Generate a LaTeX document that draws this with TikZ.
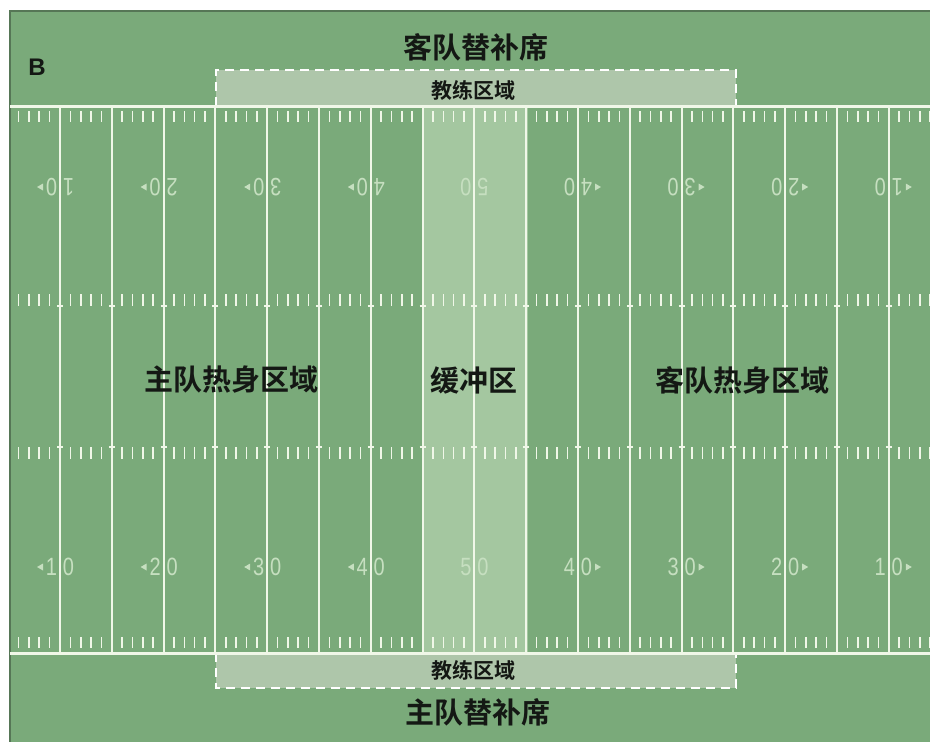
\documentclass[tikz,border=0pt]{standalone}
\usepackage{fontspec}
\setmainfont{Liberation Sans}
\newfontfamily\cjk{Noto Sans CJK SC}[BoldFont={Noto Sans CJK SC Bold}]
\usepackage{tikz}
\usetikzlibrary{positioning}
\definecolor{turf}{RGB}{122,170,122}
\definecolor{turfedge}{RGB}{86,118,86}
\definecolor{bufferzone}{RGB}{164,199,160}
\definecolor{coachzone}{RGB}{174,198,170}
\definecolor{chalk}{RGB}{240,247,232}
\definecolor{yardnum}{RGB}{198,223,192}
\definecolor{ink}{RGB}{20,24,20}
% yard number pair: #1 name, #2 x of yard line, #3 tens digit, #4 arrow side
\newcommand{\newYardNumber}[4]{%
  \node[yard num] (#1bt) at (#2-8.5,567) {#3};
  \node[yard num] (#1bo) at (#2+8.5,567) {0};
  \node[yard num,rotate=180] (#1tt) at (#2+8.5,187) {#3};
  \node[yard num,rotate=180] (#1to) at (#2-8.5,187) {0};
  \ifnum#4=0\else
    \fill[yardnum] ({#2+23*(#4)},567) -- ++({-6*(#4)},3.5) -- ++(0,-7) -- cycle;
    \fill[yardnum] ({#2+23*(#4)},187) -- ++({-6*(#4)},3.5) -- ++(0,-7) -- cycle;
  \fi}

\begin{document}
\begin{tikzpicture}[
    % pixel grid of the plan
    x=1pt,y=-1pt,
    % chalk marks
    yard line/.style={chalk,line width=2},
    side line/.style={chalk,line width=3},
    hash/.style={chalk,line width=1.6},
    coach edge/.style={white,line width=2.6,dash pattern=on 9 off 6},
    % texts
    yard num/.style={text=yardnum,inner sep=0,xscale=0.8,font=\fontsize{25}{25}\selectfont},
    zone label/.style={text=ink,inner sep=0,font=\cjk\bfseries\fontsize{29}{29}\selectfont},
    coach label/.style={text=ink,inner sep=0,font=\cjk\bfseries\fontsize{21}{21}\selectfont}
    ]

    \useasboundingbox (0,0) rectangle (930,742);
    \fill[white] (0,0) rectangle (930,742);
    \fill[turf] (10,11) rectangle (930,742);
    \draw[turfedge,line width=2.5] (10,742) -- (10,11) -- (930,11);

    % buffer zone and coach areas
    \fill[bufferzone] (424,106) rectangle (528,653);
    \fill[coachzone] (216,70) rectangle (736,106);
    \fill[coachzone] (216,653) rectangle (736,688);
    \draw[coach edge] (216,106) -- (216,70) -- (736,70) -- (736,106);
    \draw[coach edge] (216,653) -- (216,688) -- (736,688) -- (736,653);

    % yard lines
    \foreach \k in {0,...,16}{
      \pgfmathsetmacro{\x}{60+51.8*\k}
      \draw[yard line] (\x,106) -- (\x,653);
      \draw[hash] (\x-3,306) -- (\x+3,306);
      \draw[hash] (\x-3,447) -- (\x+3,447);
    }

    % hash marks, one per yard
    \foreach \k in {-1,...,16}{
      \foreach \i in {1,...,4}{
        \pgfmathsetmacro{\hx}{60+51.8*\k+10.36*\i}
        \draw[hash] (\hx,111) -- (\hx,122);
        \draw[hash] (\hx,294) -- (\hx,306);
        \draw[hash] (\hx,447) -- (\hx,459);
        \draw[hash] (\hx,637) -- (\hx,648);
      }
    }

    \draw[side line] (10,106) -- (930,106);
    \draw[side line] (10,653) -- (930,653);

    % yard numbers
    \foreach \k/\d/\s in {0/1/-1,2/2/-1,4/3/-1,6/4/-1,8/5/0,10/4/1,12/3/1,14/2/1,16/1/1}{
      \pgfmathsetmacro{\x}{60+51.8*\k}
      \newYardNumber{n\k}{\x}{\d}{\s}
    }

    \node[text=ink,inner sep=0,font=\bfseries\fontsize{24}{24}\selectfont] (panel) at (37,67) {B};
    \node[zone label] (awayBench) at (476,47) {客队替补席};
    \node[coach label] (awayCoach) at (473,90) {教练区域};
    \node[coach label] (homeCoach) at (473,670) {教练区域};
    \node[zone label] (homeBench) at (478,712) {主队替补席};
    \node[zone label] (homeWarmup) at (231,380) {主队热身区域};
    \node[zone label] (buffer) at (474,380) {缓冲区};
    \node[zone label] (awayWarmup) at (742,380) {客队热身区域};
  \end{tikzpicture}
\end{document}
